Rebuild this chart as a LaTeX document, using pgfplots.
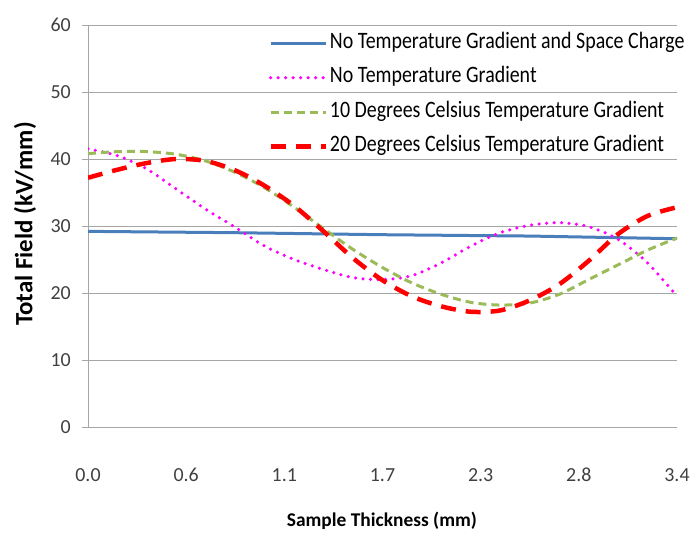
\documentclass[border=0pt]{standalone}
\usepackage{fontspec}
\setmainfont{Carlito}
\usepackage{graphicx}
\usepackage{pgfplots}
\pgfplotsset{compat=1.18}

\definecolor{lineblue}{HTML}{4A7EBB}
\definecolor{linemag}{HTML}{FF00FF}
\definecolor{linegreen}{HTML}{9BBB59}
\definecolor{linered}{HTML}{FF0000}
\definecolor{gridgray}{HTML}{A6A6A6}
\definecolor{ticktext}{HTML}{404040}

% legend text is set slightly taller than wide
\newcommand{\tall}[1]{\scalebox{1}[1.18]{#1}}

\begin{document}
\begin{tikzpicture}
\useasboundingbox (0bp,0bp) rectangle (691bp,535bp);
\begin{axis}[
  at={(88bp,108bp)}, anchor=south west,
  scale only axis, width=589bp, height=402bp,
  xmin=0, xmax=3.4, ymin=0, ymax=60,
  axis y line=left, axis x line=bottom,
  axis line style={-, draw=gridgray, line width=1bp},
  xtick={0,0.56667,1.13333,1.7,2.26667,2.83333,3.4},
  xticklabels={0.0,0.6,1.1,1.7,2.3,2.8,3.4},
  ytick={0,10,...,60},
  xtick style={draw=none},
  ytick style={draw=gridgray, line width=1bp},
  tick align=outside, major tick length=6bp,
  ymajorgrids, grid style={gridgray, line width=1bp},
  /pgf/number format/assume math mode=true,
  tick label style={font=\fontsize{20}{24}\selectfont, text=ticktext},
  xticklabel style={anchor=center, yshift=-42bp},
  yticklabel style={anchor=east, inner sep=0pt, xshift=-11bp},
  xlabel={Sample Thickness (mm)},
  ylabel={Total Field (kV/mm)},
  xlabel style={font=\bfseries\fontsize{19.5}{22}\selectfont,
    at={(axis description cs:0.499,-0.234)}, anchor=center},
  ylabel style={font=\bfseries\fontsize{25}{28}\selectfont,
    at={(axis description cs:-0.107,0.505)}, anchor=center, rotate=0},
  legend style={at={(axis description cs:0.306,0.9826)}, anchor=north west,
    draw=none, fill=none, font=\fontsize{20}{22}\selectfont,
    row sep=12.5bp, inner sep=0pt,
    nodes={inner sep=2bp, text height=14bp, text depth=4bp}},
  legend cell align=left,
  legend image code/.code={\draw[#1] (0bp,0bp) -- (55bp,0bp);},
]
% solid reference: no gradient, no space charge
\addplot[lineblue, line width=3bp] coordinates {
 (0,29.2) (0.85,29.0) (1.7,28.7) (2.55,28.5) (3.4,28.1)};
\addlegendentry{\tall{No Temperature Gradient and Space Charge}}

\addplot[linemag, line width=3.5bp, line cap=round, dash pattern=on 0bp off 7.5bp, smooth] coordinates {
 (0,41.5) (0.17,40.5) (0.34,38.5) (0.51,35.5) (0.68,32.5) (0.85,29.8)
 (1.02,27.0) (1.19,25.0) (1.36,23.5) (1.53,22.3) (1.70,22.0) (1.87,22.6)
 (2.04,24.5) (2.21,27.0) (2.38,29.0) (2.55,30.1) (2.72,30.5) (2.89,29.9)
 (3.06,28.0) (3.23,24.5) (3.40,19.5)};
\addlegendentry{\tall{No Temperature Gradient}}

\addplot[linegreen, line width=3bp, dash pattern=on 8bp off 5bp, smooth] coordinates {
 (0,40.8) (0.17,41.1) (0.34,41.1) (0.51,40.7) (0.68,39.7) (0.85,38.0)
 (1.02,35.7) (1.19,32.8) (1.36,29.6) (1.53,26.5) (1.70,23.8) (1.87,21.5)
 (2.04,19.8) (2.21,18.6) (2.38,18.2) (2.55,18.5) (2.72,19.8) (2.89,22.0)
 (3.06,24.2) (3.23,26.4) (3.40,28.2)};
\addlegendentry{\tall{10 Degrees Celsius Temperature Gradient}}

\addplot[linered, line width=4.5bp, dash pattern=on 15bp off 10bp, smooth] coordinates {
 (0,37.2) (0.17,38.4) (0.34,39.4) (0.51,40.0) (0.68,39.7) (0.85,38.3)
 (1.02,36.0) (1.19,33.0) (1.36,29.2) (1.53,25.2) (1.70,21.9) (1.87,19.5)
 (2.04,18.0) (2.21,17.2) (2.38,17.4) (2.55,18.9) (2.72,21.3) (2.89,24.8)
 (3.06,28.8) (3.23,31.5) (3.40,32.8)};
\addlegendentry{\tall{20 Degrees Celsius Temperature Gradient}}
\end{axis}
\end{tikzpicture}
\end{document}
